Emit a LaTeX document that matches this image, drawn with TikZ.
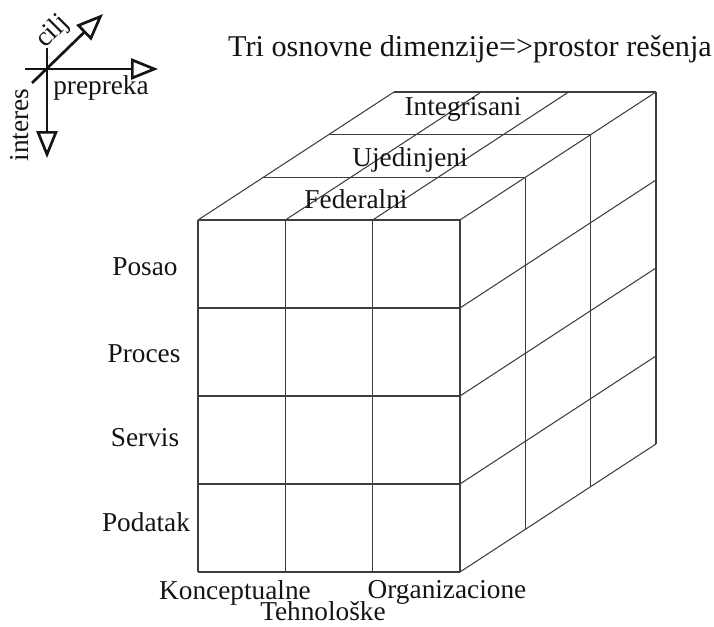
\documentclass[tikz,border=0pt]{standalone}
\usepackage{fontspec}
\setmainfont{Liberation Serif}
\usepackage{tikz}
\usetikzlibrary{arrows.meta,calc}
\definecolor{gridgray}{RGB}{62,62,62}
\definecolor{inkblack}{RGB}{20,20,20}

\begin{document}
\begin{tikzpicture}[x=0.03cm,y=-0.03cm,
    lbl/.style={font=\fontsize{23.3}{26}\selectfont,inner sep=0pt,text=inkblack},
    ttl/.style={font=\fontsize{25.8}{28}\selectfont,inner sep=0pt,text=inkblack},
    cube/.style={gridgray,line width=0.9pt},
    axis/.style={inkblack,line width=2.3pt,-{Triangle[open,length=23pt,width=18pt]}}]
  \useasboundingbox (0,0) rectangle (714,627);
  % cube cell sizes and depth step (in px of the original)
  \def\cubew{87.33}
  \def\cubeh{88}
  \def\depx{65.33}
  \def\depy{-42.67}
  % front face
  \foreach \i in {0,...,3}
    \draw[cube] (198+\i*\cubew,220) -- (198+\i*\cubew,572);
  \foreach \j in {0,...,4}
    \draw[cube] (198,220+\j*\cubeh) -- (460,220+\j*\cubeh);
  % top face
  \foreach \k in {1,...,3}
    \draw[cube] (198+\k*\depx,220+\k*\depy) -- (460+\k*\depx,220+\k*\depy);
  \foreach \i in {0,...,3}
    \draw[cube] (198+\i*\cubew,220) -- ++(3*\depx,3*\depy);
  % right face
  \foreach \k in {1,...,3}
    \draw[cube] (460+\k*\depx,220+\k*\depy) -- ++(0,4*\cubeh);
  \foreach \j in {1,...,4}
    \draw[cube] (460,220+\j*\cubeh) -- ++(3*\depx,3*\depy);
  % labels of the three dimensions
  \node[ttl,anchor=base] (title) at (470,57) {Tri osnovne dimenzije=>prostor rešenja};
  \node[lbl,anchor=base] (posao) at (145,276) {Posao};
  \node[lbl,anchor=base] (proces) at (144,363) {Proces};
  \node[lbl,anchor=base] (servis) at (145,447) {Servis};
  \node[lbl,anchor=base] (podatak) at (146,532) {Podatak};
  \node[lbl,anchor=base] (integr) at (463,116) {Integrisani};
  \node[lbl,anchor=base] (ujedin) at (410,167) {Ujedinjeni};
  \node[lbl,anchor=base] (feder) at (356,209) {Federalni};
  \node[lbl,anchor=base] (koncept) at (235,600) {Konceptualne};
  \node[lbl,anchor=base] (organiz) at (447,599) {Organizacione};
  \node[lbl,anchor=base] (tehno) at (323,621) {Tehnološke};
  % small axes legend
  \coordinate (hstart) at (25,69);
  \coordinate (hend) at (158,69);
  \coordinate (vstart) at (47,48);
  \coordinate (vend) at (47,158);
  \coordinate (dstart) at (32,83);
  \coordinate (dend) at (103,14);
  \draw[axis] (hstart) -- (hend);
  \draw[axis] (vstart) -- (vend);
  \draw[axis] (dstart) -- (dend);
  \node[lbl,anchor=base] (prepreka) at (101,95) {prepreka};
  \node[lbl,rotate=90] (interes) at (20,125) {interes};
  \node[lbl,rotate=45] (cilj) at (53,32) {cilj};
\end{tikzpicture}
\end{document}
